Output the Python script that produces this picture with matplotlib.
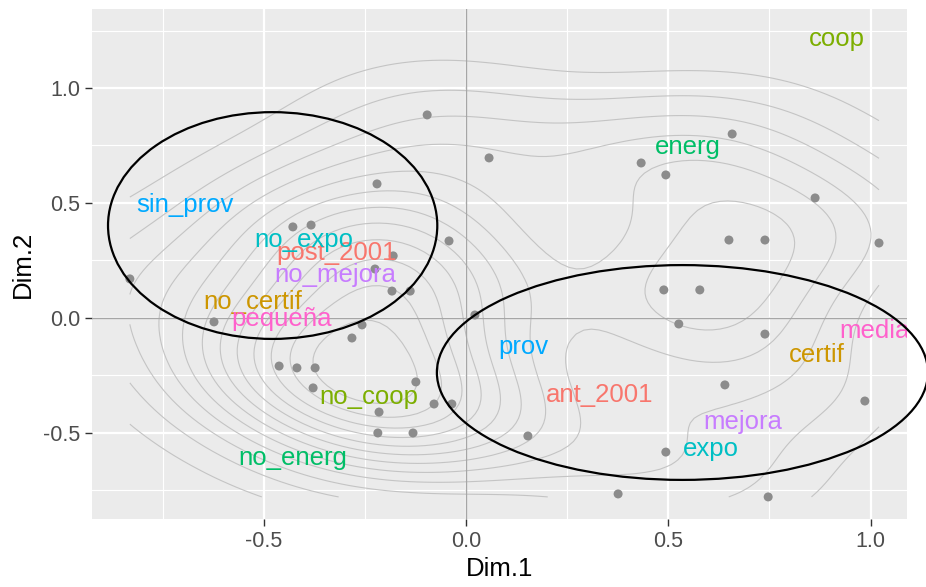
import matplotlib
matplotlib.use('Agg')
import matplotlib.pyplot as plt
from matplotlib.patches import Ellipse
from matplotlib.ticker import MultipleLocator
import numpy as np

plt.rcParams['font.family'] = ['Liberation Sans', 'DejaVu Sans']
plt.rcParams['axes.unicode_minus'] = False

# individuos (coordenadas Dim.1 / Dim.2)
ind_x = [-0.096, 0.057, -0.220, -0.428, -0.383, -0.042, -0.831, -0.225, -0.183, -0.138,
         -0.623, -0.257, -0.282, 0.022, -0.462, -0.418, -0.373, -0.378, -0.124, -0.079,
         -0.035, -0.215, -0.218, -0.131, 0.153, -0.180,
         0.658, 0.433, 0.494, 0.863, 0.650, 0.739, 1.021, 0.489, 0.578, 0.526,
         0.739, 0.640, 0.986, 0.494, 0.376, 0.747]
ind_y = [0.883, 0.696, 0.583, 0.396, 0.404, 0.335, 0.170, 0.213, 0.117, 0.117,
         -0.017, -0.030, -0.087, 0.013, -0.209, -0.217, -0.217, -0.304, -0.278, -0.374,
         -0.374, -0.409, -0.500, -0.500, -0.513, 0.270,
         0.800, 0.674, 0.622, 0.522, 0.339, 0.339, 0.326, 0.122, 0.122, -0.026,
         -0.070, -0.291, -0.361, -0.583, -0.765, -0.778]

# categorias
cat_labels = ['ant_2001', 'post_2001', 'certif', 'no_certif', 'coop', 'no_coop',
              'energ', 'no_energ', 'expo', 'no_expo', 'prov', 'sin_prov',
              'mejora', 'no_mejora', 'media', 'pequeña']
cat_x = [0.331, -0.321, 0.868, -0.527, 0.917, -0.240, 0.549, -0.428,
         0.606, -0.400, 0.143, -0.695, 0.685, -0.324, 1.010, -0.457]
cat_y = [-0.335, 0.283, -0.161, 0.070, 1.213, -0.343, 0.743, -0.609,
         -0.570, 0.339, -0.126, 0.491, -0.452, 0.187, -0.057, -0.004]
cat_var = [0, 0, 1, 1, 2, 2, 3, 3, 4, 4, 5, 5, 6, 6, 7, 7]
var_colors = ['#F8766D', '#CD9600', '#7CAE00', '#00BE67',
              '#00BFC4', '#00A9FF', '#C77CFF', '#FF61CC']

# grupos marcados
grp_cx = [-0.478, 0.535]
grp_cy = [0.402, -0.237]
grp_w = [0.814, 1.214]
grp_h = [0.986, 0.934]

fig = plt.figure(figsize=(9.26, 5.87), dpi=100)
ax = fig.add_axes([92 / 926, 68 / 587, 815 / 926, 510 / 587])
ax.set_facecolor('#EBEBEB')
for s in ax.spines.values():
    s.set_visible(False)

ax.set_xlim(-0.9246, 1.0902)
ax.set_ylim(-0.874, 1.3435)
ax.xaxis.set_major_locator(MultipleLocator(0.5))
ax.yaxis.set_major_locator(MultipleLocator(0.5))
ax.xaxis.set_minor_locator(MultipleLocator(0.25))
ax.yaxis.set_minor_locator(MultipleLocator(0.25))
ax.grid(which='major', color='white', lw=1.6, zorder=0)
ax.grid(which='minor', color='white', lw=0.8, zorder=0)
ax.set_axisbelow(True)
ax.tick_params(which='major', length=4.8, width=1.0, color='#333333',
               labelsize=15.5, labelcolor='#4D4D4D', pad=3.5)
ax.tick_params(which='minor', length=0)

# densidad 2d (kde2d con bandwidth.nrd)
x = np.array(ind_x)
y = np.array(ind_y)


def bw_nrd(v):
    q75, q25 = np.percentile(v, [75, 25])
    return 4 * 1.06 * min(np.std(v, ddof=1), (q75 - q25) / 1.34) * len(v) ** (-0.2)


allx = np.concatenate([x, cat_x])
ally = np.concatenate([y, cat_y])
gx = np.linspace(allx.min(), allx.max(), 100)
gy = np.linspace(ally.min(), ally.max(), 100)
hx = bw_nrd(x) / 4
hy = bw_nrd(y) / 4
kx = np.exp(-0.5 * ((gx[:, None] - x[None, :]) / hx) ** 2) / np.sqrt(2 * np.pi)
ky = np.exp(-0.5 * ((gy[:, None] - y[None, :]) / hy) ** 2) / np.sqrt(2 * np.pi)
z = (kx @ ky.T) / (len(x) * hx * hy)
levels = np.linspace(0, z.max(), 14)[1:-1]
ax.contour(gx, gy, z.T, levels=levels, colors='#C4C4C4', linewidths=0.8, zorder=1)

ax.axhline(0, color='#A6A6A6', lw=1.0, zorder=1.5)
ax.axvline(0, color='#A6A6A6', lw=1.0, zorder=1.5)

ax.scatter(ind_x, ind_y, s=42, color='#8C8C8C', edgecolors='none', zorder=2)

for lab, lx, ly, v in zip(cat_labels, cat_x, cat_y, cat_var):
    ax.text(lx, ly, lab, color=var_colors[v], fontsize=18.5, ha='center', va='center',
            zorder=3, clip_on=True)

for cx, cy, w, h in zip(grp_cx, grp_cy, grp_w, grp_h):
    ax.add_patch(Ellipse((cx, cy), w, h, fill=False, edgecolor='black', lw=1.6,
                         zorder=4, clip_on=False))

ax.set_xlabel('Dim.1', fontsize=18.5, labelpad=4)
ax.set_ylabel('Dim.2', fontsize=18.5, labelpad=6)

fig.savefig('out.png', dpi=100)
